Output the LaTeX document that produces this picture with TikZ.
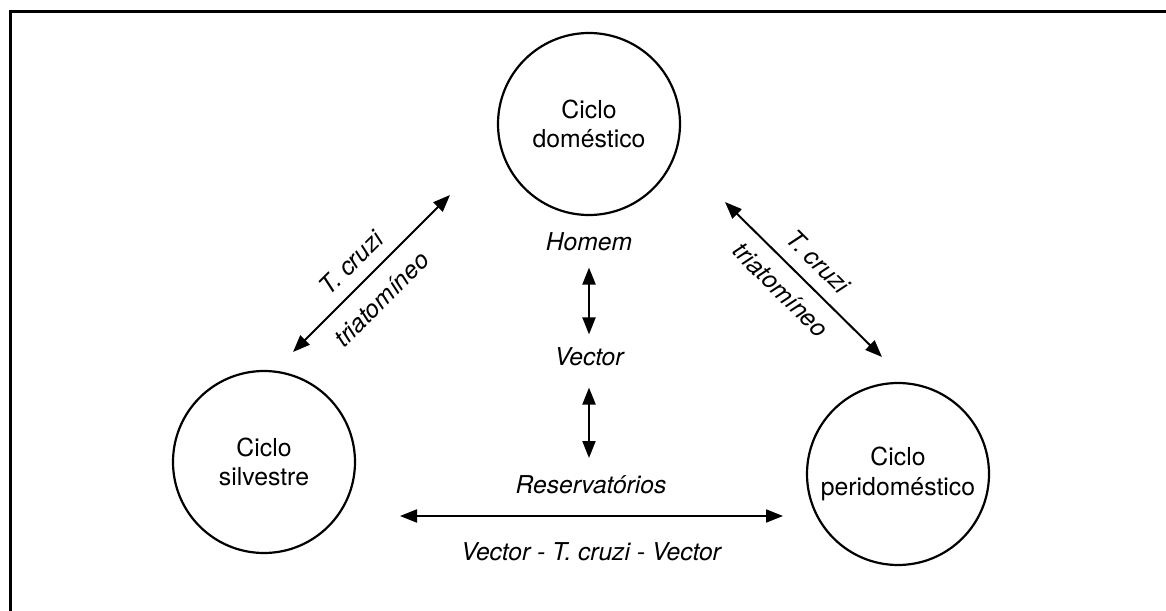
\documentclass[tikz,border=0pt]{standalone}
\usepackage{fontspec}
\setmainfont{TeX Gyre Heros}
\usetikzlibrary{arrows.meta}
\begin{document}
\begin{tikzpicture}[x=0.5pt,y=-0.5pt,
  cyc/.style={circle, draw, line width=1.1pt, minimum size=91pt, inner sep=0pt, align=center, font=\fontsize{12.4}{14.8}\selectfont},
  lbl/.style={inner sep=0pt, font=\fontsize{12.3}{14}\selectfont\itshape},
  arr/.style={line width=1pt, {Triangle[length=8.5pt,width=6.5pt]}-{Triangle[length=8.5pt,width=6.5pt]}},
  frameline/.style={line width=1.5pt}]
\useasboundingbox (0,0) rectangle (1166,610);
% frame (top and left sides only)
\coordinate (fa) at (10.5,612);
\coordinate (fb) at (10.5,12);
\coordinate (fc) at (1168,12);
\draw[frameline] (fa) -- (fb) -- (fc);
% cycles
\node[cyc] (dom) at (589,124) {Ciclo\\doméstico};
\node[cyc] (sil) at (264,462) {Ciclo\\silvestre};
\node[cyc] (per) at (898,474) {Ciclo\\peridoméstico};
% central labels
\node[lbl] (homem) at (589,242) {Homem};
\node[lbl] (vector) at (589,357) {Vector};
\node[lbl] (res) at (591,485) {Reservatórios};
\node[lbl] (vtv) at (591,552) {Vector - T. cruzi - Vector};
% arrow end points
\coordinate (l1) at (293,352);
\coordinate (l2) at (450,195);
\coordinate (r1) at (725,202);
\coordinate (r2) at (882,357);
\coordinate (h1) at (400,516);
\coordinate (h2) at (783,516);
\coordinate (v2) at (589,458);
% arrows
\draw[arr] (l1) -- node[lbl, pos=0.47, sloped, above=6pt] {T. cruzi}
                    node[lbl, pos=0.45, sloped, below=7.5pt] {triatomíneo} (l2);
\draw[arr] (r1) -- node[lbl, pos=0.49, sloped, above=6.5pt] {T. cruzi}
                    node[lbl, pos=0.46, sloped, below=6.5pt] {triatomíneo} (r2);
\draw[arr, shorten <=8pt, shorten >=6.5pt] (homem) -- (vector);
\draw[arr, shorten <=10.5pt] (vector) -- (v2);
\draw[arr] (h1) -- (h2);
\end{tikzpicture}
\end{document}
